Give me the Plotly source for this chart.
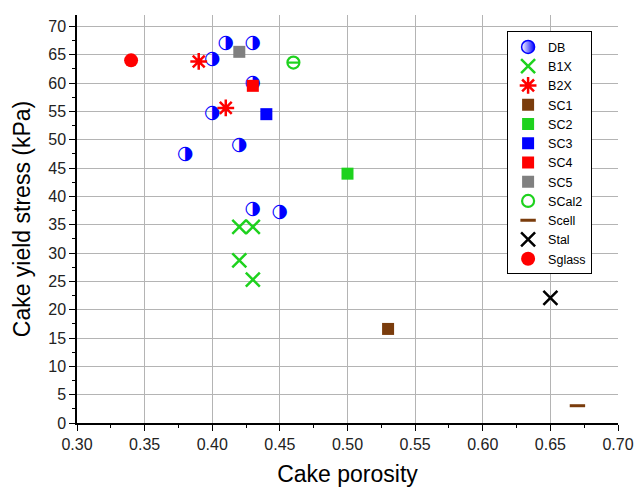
import plotly.graph_objects as go

# ---- data ----
db_x = [0.41, 0.43, 0.40, 0.43, 0.40, 0.42, 0.38, 0.43, 0.45]
db_y = [67.1, 67.0, 64.2, 60.0, 54.6, 49.0, 47.4, 37.7, 37.2]
b1x_x = [0.42, 0.43, 0.42, 0.43]
b1x_y = [34.6, 34.6, 28.7, 25.3]
b2x_x = [0.39, 0.41]
b2x_y = [63.8, 55.6]
sc1_x, sc1_y = [0.53], [16.6]
sc2_x, sc2_y = [0.50], [44.0]
sc3_x, sc3_y = [0.44], [54.5]
sc4_x, sc4_y = [0.43], [59.5]
sc5_x, sc5_y = [0.42], [65.5]
scal2_x, scal2_y = [0.46], [63.6]
scell_x, scell_y = [0.67], [3.05]
stal_x, stal_y = [0.65], [22.1]
sglass_x, sglass_y = [0.34], [64.0]

BLUE = "#0000ff"
GREEN = "#1ed21e"
RED = "#ff0000"
BROWN = "#7a3c0c"
GRAY = "#808080"
FONT = "Liberation Sans"

fig = go.Figure()

# DB: half-filled circles drawn as glyphs, legend via a legend-only trace
fig.add_trace(go.Scatter(x=[None], y=[None], mode="markers", name="DB",
                         marker=dict(symbol="circle", size=13, color="white",
                                     line=dict(color=BLUE, width=1.5),
                                     gradient=dict(type="horizontal", color=BLUE))))
fig.add_trace(go.Scatter(x=db_x, y=db_y, mode="text", text=["◑"] * len(db_x),
                         textfont=dict(family="DejaVu Sans", size=19, color=BLUE),
                         textposition="middle center", showlegend=False, name="DB"))

fig.add_trace(go.Scatter(x=b1x_x, y=b1x_y, mode="markers", name="B1X",
                         marker=dict(symbol="x-thin-open", size=14, color=GREEN,
                                     line=dict(color=GREEN, width=2.5))))
fig.add_trace(go.Scatter(x=b2x_x, y=b2x_y, mode="markers", name="B2X",
                         marker=dict(symbol="asterisk-open", size=14, color=RED,
                                     line=dict(color=RED, width=2.5))))
for nm, xs, ys, col in [("SC1", sc1_x, sc1_y, BROWN), ("SC2", sc2_x, sc2_y, GREEN),
                        ("SC3", sc3_x, sc3_y, BLUE), ("SC4", sc4_x, sc4_y, RED),
                        ("SC5", sc5_x, sc5_y, GRAY)]:
    fig.add_trace(go.Scatter(x=xs, y=ys, mode="markers", name=nm,
                             marker=dict(symbol="square", size=12, color=col,
                                         line=dict(width=0))))
fig.add_trace(go.Scatter(x=scal2_x, y=scal2_y, mode="markers", name="SCal2",
                         marker=dict(symbol="circle-open", size=12, color=GREEN,
                                     line=dict(color=GREEN, width=2.2))))
fig.add_trace(go.Scatter(x=scal2_x, y=scal2_y, mode="markers", showlegend=False,
                         marker=dict(symbol="line-ew-open", size=8, color=GREEN,
                                     line=dict(color=GREEN, width=2.2))))
fig.add_trace(go.Scatter(x=scell_x, y=scell_y, mode="markers", name="Scell",
                         marker=dict(symbol="line-ew-open", size=11, color=BROWN,
                                     line=dict(color=BROWN, width=3))))
fig.add_trace(go.Scatter(x=stal_x, y=stal_y, mode="markers", name="Stal",
                         marker=dict(symbol="x-thin-open", size=14, color="black",
                                     line=dict(color="black", width=2.5))))
fig.add_trace(go.Scatter(x=sglass_x, y=sglass_y, mode="markers", name="Sglass",
                         marker=dict(symbol="circle", size=14, color=RED,
                                     line=dict(width=0))))

axis_common = dict(showline=True, linecolor="black", linewidth=1.5,
                   ticks="outside", ticklen=6, tickwidth=1.2, tickcolor="black",
                   showgrid=True, gridcolor="#b4b4b4", gridwidth=1,
                   zeroline=False, tickfont=dict(family=FONT, size=16, color="#222"),
                   mirror=False, automargin=False)

fig.update_layout(
    width=637, height=487,
    margin=dict(l=77, r=19, t=15, b=64),
    paper_bgcolor="white", plot_bgcolor="white",
    font=dict(family=FONT, color="black"),
    xaxis=dict(range=[0.30, 0.70], dtick=0.05, tick0=0.30, tickformat=".2f",
               title=dict(text="Cake porosity", font=dict(size=23), standoff=14),
               minor=dict(dtick=0.025, ticklen=3, tickcolor="black", ticks="outside", showgrid=False),
               **axis_common),
    yaxis=dict(range=[0, 72], dtick=5, tick0=0,
               title=dict(text="Cake yield stress (kPa)", font=dict(size=23), standoff=11),
               minor=dict(dtick=2.5, ticklen=3, tickcolor="black", ticks="outside", showgrid=False),
               **axis_common),
    legend=dict(x=0.795, y=0.96, xanchor="left", yanchor="top",
                bgcolor="white", bordercolor="black", borderwidth=1,
                font=dict(family=FONT, size=12.5, color="black"),
                tracegroupgap=0, itemsizing="trace"),
    showlegend=True,
)

fig.write_html("out.html")
